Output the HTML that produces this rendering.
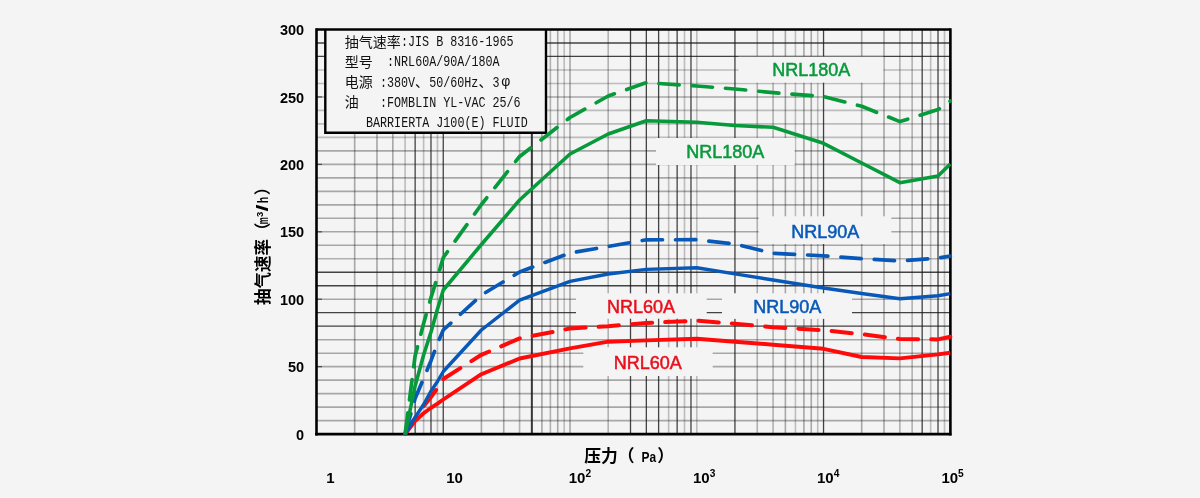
<!DOCTYPE html>
<html><head><meta charset="utf-8"><title>chart</title>
<style>html,body{margin:0;padding:0;background:#f4f4f4;width:1200px;height:498px;overflow:hidden;font-family:"Liberation Sans",sans-serif}</style>
</head><body>
<svg width="1200" height="498" viewBox="0 0 1200 498" style="position:absolute;left:0;top:0;display:block;will-change:transform;filter:blur(0.4px)">
<rect x="0" y="0" width="1200" height="498" fill="#f4f4f4"/>
<g stroke="#161616" fill="none">
<line x1="354.66" y1="29.5" x2="354.66" y2="434.1" stroke-width="1.6" stroke-opacity="0.35"/>
<line x1="376.98" y1="29.5" x2="376.98" y2="434.1" stroke-width="1.6" stroke-opacity="0.35"/>
<line x1="392.82" y1="29.5" x2="392.82" y2="434.1" stroke-width="1.6" stroke-opacity="0.35"/>
<line x1="405.10" y1="29.5" x2="405.10" y2="434.1" stroke-width="1.6" stroke-opacity="0.25"/>
<line x1="415.14" y1="29.5" x2="415.14" y2="434.1" stroke-width="1.3" stroke-opacity="0.8"/>
<line x1="423.62" y1="29.5" x2="423.62" y2="434.1" stroke-width="1.6" stroke-opacity="0.25"/>
<line x1="430.98" y1="29.5" x2="430.98" y2="434.1" stroke-width="1.3" stroke-opacity="0.8"/>
<line x1="437.46" y1="29.5" x2="437.46" y2="434.1" stroke-width="1.6" stroke-opacity="0.25"/>
<line x1="443.26" y1="29.5" x2="443.26" y2="434.1" stroke-width="1.3" stroke-opacity="0.8"/>
<line x1="481.42" y1="29.5" x2="481.42" y2="434.1" stroke-width="1.6" stroke-opacity="0.35"/>
<line x1="503.74" y1="29.5" x2="503.74" y2="434.1" stroke-width="1.6" stroke-opacity="0.35"/>
<line x1="519.58" y1="29.5" x2="519.58" y2="434.1" stroke-width="1.6" stroke-opacity="0.3"/>
<line x1="531.86" y1="29.5" x2="531.86" y2="434.1" stroke-width="2.0" stroke-opacity="0.85"/>
<line x1="541.90" y1="29.5" x2="541.90" y2="434.1" stroke-width="1.6" stroke-opacity="0.35"/>
<line x1="550.38" y1="29.5" x2="550.38" y2="434.1" stroke-width="1.6" stroke-opacity="0.3"/>
<line x1="557.74" y1="29.5" x2="557.74" y2="434.1" stroke-width="1.6" stroke-opacity="0.35"/>
<line x1="564.22" y1="29.5" x2="564.22" y2="434.1" stroke-width="1.6" stroke-opacity="0.25"/>
<line x1="570.02" y1="29.5" x2="570.02" y2="434.1" stroke-width="1.6" stroke-opacity="0.35"/>
<line x1="608.18" y1="29.5" x2="608.18" y2="434.1" stroke-width="1.6" stroke-opacity="0.3"/>
<line x1="630.50" y1="29.5" x2="630.50" y2="434.1" stroke-width="1.3" stroke-opacity="0.8"/>
<line x1="646.34" y1="29.5" x2="646.34" y2="434.1" stroke-width="1.3" stroke-opacity="0.8"/>
<line x1="658.62" y1="29.5" x2="658.62" y2="434.1" stroke-width="1.3" stroke-opacity="0.8"/>
<line x1="668.66" y1="29.5" x2="668.66" y2="434.1" stroke-width="1.6" stroke-opacity="0.25"/>
<line x1="677.14" y1="29.5" x2="677.14" y2="434.1" stroke-width="1.3" stroke-opacity="0.8"/>
<line x1="684.50" y1="29.5" x2="684.50" y2="434.1" stroke-width="1.6" stroke-opacity="0.25"/>
<line x1="690.98" y1="29.5" x2="690.98" y2="434.1" stroke-width="1.3" stroke-opacity="0.8"/>
<line x1="696.78" y1="29.5" x2="696.78" y2="434.1" stroke-width="1.6" stroke-opacity="0.25"/>
<line x1="734.94" y1="29.5" x2="734.94" y2="434.1" stroke-width="1.3" stroke-opacity="0.8"/>
<line x1="757.26" y1="29.5" x2="757.26" y2="434.1" stroke-width="1.6" stroke-opacity="0.3"/>
<line x1="773.10" y1="29.5" x2="773.10" y2="434.1" stroke-width="1.6" stroke-opacity="0.3"/>
<line x1="785.38" y1="29.5" x2="785.38" y2="434.1" stroke-width="1.6" stroke-opacity="0.35"/>
<line x1="795.42" y1="29.5" x2="795.42" y2="434.1" stroke-width="1.6" stroke-opacity="0.25"/>
<line x1="803.90" y1="29.5" x2="803.90" y2="434.1" stroke-width="1.6" stroke-opacity="0.35"/>
<line x1="811.26" y1="29.5" x2="811.26" y2="434.1" stroke-width="1.6" stroke-opacity="0.35"/>
<line x1="817.74" y1="29.5" x2="817.74" y2="434.1" stroke-width="1.6" stroke-opacity="0.25"/>
<line x1="823.54" y1="29.5" x2="823.54" y2="434.1" stroke-width="1.3" stroke-opacity="0.8"/>
<line x1="861.70" y1="29.5" x2="861.70" y2="434.1" stroke-width="1.6" stroke-opacity="0.35"/>
<line x1="884.02" y1="29.5" x2="884.02" y2="434.1" stroke-width="1.6" stroke-opacity="0.35"/>
<line x1="899.86" y1="29.5" x2="899.86" y2="434.1" stroke-width="1.6" stroke-opacity="0.3"/>
<line x1="912.14" y1="29.5" x2="912.14" y2="434.1" stroke-width="1.6" stroke-opacity="0.3"/>
<line x1="922.18" y1="29.5" x2="922.18" y2="434.1" stroke-width="1.3" stroke-opacity="0.8"/>
<line x1="930.66" y1="29.5" x2="930.66" y2="434.1" stroke-width="1.6" stroke-opacity="0.25"/>
<line x1="938.02" y1="29.5" x2="938.02" y2="434.1" stroke-width="1.3" stroke-opacity="0.8"/>
<line x1="944.50" y1="29.5" x2="944.50" y2="434.1" stroke-width="1.6" stroke-opacity="0.25"/>
<line x1="316.5" y1="42.99" x2="950.3" y2="42.99" stroke-width="1.3" stroke-opacity="0.8"/>
<line x1="316.5" y1="56.47" x2="950.3" y2="56.47" stroke-width="1.3" stroke-opacity="0.8"/>
<line x1="316.5" y1="69.96" x2="950.3" y2="69.96" stroke-width="1.6" stroke-opacity="0.25"/>
<line x1="316.5" y1="83.45" x2="950.3" y2="83.45" stroke-width="1.6" stroke-opacity="0.25"/>
<line x1="316.5" y1="96.93" x2="950.3" y2="96.93" stroke-width="1.6" stroke-opacity="0.35"/>
<line x1="316.5" y1="110.42" x2="950.3" y2="110.42" stroke-width="1.6" stroke-opacity="0.25"/>
<line x1="316.5" y1="123.91" x2="950.3" y2="123.91" stroke-width="1.6" stroke-opacity="0.25"/>
<line x1="316.5" y1="137.39" x2="950.3" y2="137.39" stroke-width="1.6" stroke-opacity="0.25"/>
<line x1="316.5" y1="150.88" x2="950.3" y2="150.88" stroke-width="1.6" stroke-opacity="0.35"/>
<line x1="316.5" y1="164.37" x2="950.3" y2="164.37" stroke-width="1.6" stroke-opacity="0.35"/>
<line x1="316.5" y1="177.85" x2="950.3" y2="177.85" stroke-width="1.6" stroke-opacity="0.35"/>
<line x1="316.5" y1="191.34" x2="950.3" y2="191.34" stroke-width="1.6" stroke-opacity="0.35"/>
<line x1="316.5" y1="204.83" x2="950.3" y2="204.83" stroke-width="1.6" stroke-opacity="0.35"/>
<line x1="316.5" y1="218.31" x2="950.3" y2="218.31" stroke-width="1.6" stroke-opacity="0.35"/>
<line x1="316.5" y1="231.80" x2="950.3" y2="231.80" stroke-width="1.6" stroke-opacity="0.35"/>
<line x1="316.5" y1="245.29" x2="950.3" y2="245.29" stroke-width="1.6" stroke-opacity="0.35"/>
<line x1="316.5" y1="258.77" x2="950.3" y2="258.77" stroke-width="1.6" stroke-opacity="0.3"/>
<line x1="316.5" y1="272.26" x2="950.3" y2="272.26" stroke-width="1.3" stroke-opacity="0.8"/>
<line x1="316.5" y1="285.75" x2="950.3" y2="285.75" stroke-width="1.3" stroke-opacity="0.8"/>
<line x1="316.5" y1="299.23" x2="950.3" y2="299.23" stroke-width="1.6" stroke-opacity="0.35"/>
<line x1="316.5" y1="312.72" x2="950.3" y2="312.72" stroke-width="1.3" stroke-opacity="0.8"/>
<line x1="316.5" y1="326.21" x2="950.3" y2="326.21" stroke-width="1.3" stroke-opacity="0.8"/>
<line x1="316.5" y1="339.69" x2="950.3" y2="339.69" stroke-width="1.6" stroke-opacity="0.35"/>
<line x1="316.5" y1="353.18" x2="950.3" y2="353.18" stroke-width="1.6" stroke-opacity="0.35"/>
<line x1="316.5" y1="366.67" x2="950.3" y2="366.67" stroke-width="1.6" stroke-opacity="0.35"/>
<line x1="316.5" y1="380.15" x2="950.3" y2="380.15" stroke-width="1.6" stroke-opacity="0.35"/>
<line x1="316.5" y1="393.64" x2="950.3" y2="393.64" stroke-width="1.6" stroke-opacity="0.35"/>
<line x1="316.5" y1="407.13" x2="950.3" y2="407.13" stroke-width="1.6" stroke-opacity="0.35"/>
<line x1="316.5" y1="420.61" x2="950.3" y2="420.61" stroke-width="1.6" stroke-opacity="0.35"/>
<line x1="316.5" y1="366.67" x2="322.0" y2="366.67" stroke-width="1.3" stroke-opacity="0.6"/>
<line x1="316.5" y1="299.23" x2="322.0" y2="299.23" stroke-width="1.3" stroke-opacity="0.6"/>
<line x1="316.5" y1="231.80" x2="322.0" y2="231.80" stroke-width="1.3" stroke-opacity="0.6"/>
<line x1="316.5" y1="164.37" x2="322.0" y2="164.37" stroke-width="1.3" stroke-opacity="0.6"/>
<line x1="316.5" y1="96.93" x2="322.0" y2="96.93" stroke-width="1.3" stroke-opacity="0.6"/>
</g>
<rect x="738.5" y="56.7" width="144.8" height="26.0" fill="#f4f4f4"/>
<rect x="656.0" y="138.0" width="138.7" height="27.0" fill="#f4f4f4"/>
<rect x="758.7" y="216.3" width="132.6" height="27.7" fill="#f4f4f4"/>
<rect x="722.0" y="293.3" width="130.0" height="25.6" fill="#f4f4f4"/>
<rect x="576.0" y="293.3" width="130.7" height="25.4" fill="#f4f4f4"/>
<rect x="583.3" y="347.3" width="129.4" height="28.7" fill="#f4f4f4"/>
<rect x="325.3" y="29.5" width="220.7" height="103.30000000000001" fill="#f4f4f4"/>
<g stroke="#000" fill="none">
<line x1="316.5" y1="28.3" x2="316.5" y2="435.40000000000003" stroke-width="2.6"/>
<line x1="315.2" y1="434.1" x2="951.4" y2="434.1" stroke-width="2.6"/>
<line x1="950.4" y1="28.25" x2="950.4" y2="435.40000000000003" stroke-width="2.6"/>
<line x1="316.5" y1="29.4" x2="950.3" y2="29.4" stroke-width="2.5"/>
<polyline points="325.3,29.5 325.3,132.8 546.0,132.8 546.0,29.5" stroke-width="2.4"/>
</g>
<polyline points="405.1,434.1 415.1,418 423.6,406.3 431.0,397 437.5,388 443.3,379 481.4,354.8 519.6,338.4 570.0,328.5 608.2,326.3 646.3,322.9 696.8,320.7 734.9,323.7 773.1,327.2 823.5,330.2 861.7,334.2 899.9,339.1 938.0,339.4 950.3,336.7" fill="none" stroke="#ff0a0a" stroke-width="4.0" stroke-linejoin="round" stroke-dasharray="20.3 13.07" stroke-dashoffset="33.1" stroke-linecap="round"/>
<polyline points="405.1,434.1 415.1,421 423.6,413.3 431.0,407.8 437.5,403.6 443.3,399.5 481.4,374.2 519.6,358.5 570.0,348.4 608.2,341.7 646.3,340.4 696.8,338.7 734.9,341.7 773.1,344.7 823.5,348.8 861.7,357 899.9,358.4 938.0,354.4 950.3,352.7" fill="none" stroke="#ff0a0a" stroke-width="3.9" stroke-linejoin="round"/>
<polyline points="405.1,434.1 415.1,398.5 423.6,378.6 431.0,360.7 437.5,343.5 443.3,330 481.4,295 519.6,272 570.0,253 608.2,246.5 646.3,239.8 696.8,239.7 734.9,244 773.1,253.3 823.5,255.8 861.7,258.6 899.9,261 938.0,258 950.3,256" fill="none" stroke="#0858b8" stroke-width="3.7" stroke-linejoin="round" stroke-dasharray="20.3 13.07" stroke-dashoffset="32.5" stroke-linecap="round"/>
<polyline points="405.1,434.1 415.1,417.4 423.6,404.5 431.0,391 437.5,381.5 443.3,371.5 481.4,330 519.6,300.2 570.0,281.3 608.2,274 646.3,269.4 696.8,267.8 734.9,273.9 773.1,280 823.5,288 861.7,293.5 899.9,298.7 938.0,295.7 950.3,293.6" fill="none" stroke="#0858b8" stroke-width="3.4" stroke-linejoin="round"/>
<polyline points="405.1,434.1 415.1,356 423.6,323.5 431.0,297.5 437.5,277 443.3,257.5 481.4,204.5 519.6,156.5 570.0,117.5 608.2,96 646.3,82.7 696.8,86 734.9,89 773.1,92.6 823.5,96.5 861.7,106.3 899.9,121.6 938.0,109.6 950.3,101" fill="none" stroke="#079a3b" stroke-width="3.7" stroke-linejoin="round" stroke-dasharray="20.3 13.07" stroke-dashoffset="32.2" stroke-linecap="round"/>
<polyline points="405.1,434.1 415.1,386 423.6,355 431.0,332 437.5,309 443.3,290 481.4,244.5 519.6,200 570.0,154 608.2,134 646.3,120.7 696.8,122.3 734.9,125.5 773.1,127.3 823.5,143.3 861.7,163 899.9,182.7 938.0,176 950.3,164" fill="none" stroke="#079a3b" stroke-width="3.6" stroke-linejoin="round"/>
<text x="304.2" y="439.7" font-family="Liberation Sans, sans-serif" font-size="14.5" font-weight="bold" text-anchor="end" fill="#000">0</text>
<text x="304.2" y="372.3" font-family="Liberation Sans, sans-serif" font-size="14.5" font-weight="bold" text-anchor="end" fill="#000">50</text>
<text x="304.2" y="304.8" font-family="Liberation Sans, sans-serif" font-size="14.5" font-weight="bold" text-anchor="end" fill="#000">100</text>
<text x="304.2" y="237.4" font-family="Liberation Sans, sans-serif" font-size="14.5" font-weight="bold" text-anchor="end" fill="#000">150</text>
<text x="304.2" y="170.0" font-family="Liberation Sans, sans-serif" font-size="14.5" font-weight="bold" text-anchor="end" fill="#000">200</text>
<text x="304.2" y="102.5" font-family="Liberation Sans, sans-serif" font-size="14.5" font-weight="bold" text-anchor="end" fill="#000">250</text>
<text x="304.2" y="35.1" font-family="Liberation Sans, sans-serif" font-size="14.5" font-weight="bold" text-anchor="end" fill="#000">300</text>
<text x="326.2" y="483.3" font-family="Liberation Sans, sans-serif" font-size="15" font-weight="bold" fill="#000">1</text>
<text x="446.2" y="483.3" font-family="Liberation Sans, sans-serif" font-size="15" font-weight="bold" fill="#000">10</text>
<text x="568.7" y="483.3" font-family="Liberation Sans, sans-serif" font-size="15" font-weight="bold" fill="#000">10<tspan font-size="10.2" dy="-5.9">2</tspan></text>
<text x="693.0" y="483.3" font-family="Liberation Sans, sans-serif" font-size="15" font-weight="bold" fill="#000">10<tspan font-size="10.2" dy="-5.9">3</tspan></text>
<text x="817.0" y="483.3" font-family="Liberation Sans, sans-serif" font-size="15" font-weight="bold" fill="#000">10<tspan font-size="10.2" dy="-5.9">4</tspan></text>
<text x="941.4000000000001" y="483.3" font-family="Liberation Sans, sans-serif" font-size="15" font-weight="bold" fill="#000">10<tspan font-size="10.2" dy="-5.9">5</tspan></text>
<text x="811.3" y="76.3" font-family="Liberation Sans, sans-serif" font-size="18" text-anchor="middle" fill="#079a3b" stroke="#079a3b" stroke-width="0.5">NRL180A</text>
<text x="725.3" y="158.4" font-family="Liberation Sans, sans-serif" font-size="18" text-anchor="middle" fill="#079a3b" stroke="#079a3b" stroke-width="0.5">NRL180A</text>
<text x="825.2" y="237.7" font-family="Liberation Sans, sans-serif" font-size="18" text-anchor="middle" fill="#0858b8" stroke="#0858b8" stroke-width="0.5">NRL90A</text>
<text x="787.3" y="313.2" font-family="Liberation Sans, sans-serif" font-size="18" text-anchor="middle" fill="#0858b8" stroke="#0858b8" stroke-width="0.5">NRL90A</text>
<text x="641.1" y="313.1" font-family="Liberation Sans, sans-serif" font-size="18" text-anchor="middle" fill="#e8101c" stroke="#e8101c" stroke-width="0.5">NRL60A</text>
<text x="647.8" y="368.7" font-family="Liberation Sans, sans-serif" font-size="18" text-anchor="middle" fill="#e8101c" stroke="#e8101c" stroke-width="0.5">NRL60A</text>
<g fill="#111" font-size="14"><title>抽气速率:JIS B 8316-1965 / 型号:NRL60A/90A/180A / 电源:380V、50/60Hz、3φ / 油:FOMBLIN YL-VAC 25/6 BARRIERTA J100(E) FLUID</title>
<text x="344.7" y="46.6" font-family="'Liberation Sans', 'Noto Sans CJK SC', sans-serif">抽气速率</text>
<text x="401" y="46.2" font-family="'Liberation Mono', monospace" xml:space="preserve" textLength="112.5" lengthAdjust="spacingAndGlyphs">:JIS B 8316-1965</text>
<text x="344.7" y="66.8" font-family="'Liberation Sans', 'Noto Sans CJK SC', sans-serif">型号</text>
<text x="387" y="66.4" font-family="'Liberation Mono', monospace" xml:space="preserve" textLength="112.5" lengthAdjust="spacingAndGlyphs">:NRL60A/90A/180A</text>
<text x="344.7" y="86.9" font-family="'Liberation Sans', 'Noto Sans CJK SC', sans-serif">电源</text>
<text x="380" y="86.5" font-family="'Liberation Mono', monospace" xml:space="preserve" textLength="35.15" lengthAdjust="spacingAndGlyphs">:380V</text>
<text x="415" y="86.9" font-family="'Liberation Sans', 'Noto Sans CJK SC', sans-serif">、</text>
<text x="429.2" y="86.5" font-family="'Liberation Mono', monospace" xml:space="preserve" textLength="49.2" lengthAdjust="spacingAndGlyphs">50/60Hz</text>
<text x="478.4" y="86.9" font-family="'Liberation Sans', 'Noto Sans CJK SC', sans-serif">、</text>
<text x="492.4" y="86.5" font-family="'Liberation Mono', monospace" textLength="7.03" lengthAdjust="spacingAndGlyphs">3</text>
<text x="505.8" y="86.3" font-family="'Liberation Sans', 'Noto Sans CJK SC', sans-serif" text-anchor="middle">φ</text>
<text x="344.7" y="107.1" font-family="'Liberation Sans', 'Noto Sans CJK SC', sans-serif">油</text>
<text x="380" y="106.7" font-family="'Liberation Mono', monospace" xml:space="preserve" textLength="140.6" lengthAdjust="spacingAndGlyphs">:FOMBLIN YL-VAC 25/6</text>
<text x="366" y="126.8" font-family="'Liberation Mono', monospace" xml:space="preserve" textLength="161.7" lengthAdjust="spacingAndGlyphs">BARRIERTA J100(E) FLUID</text>
</g>
<g fill="#000" font-weight="bold"><title>压力（ Pa）</title>
<text x="584.3" y="462.4" font-size="16.8" font-family="'Liberation Sans', 'Noto Sans CJK SC', sans-serif">压力（</text>
<text x="641.5" y="462.2" font-size="15.5" font-family="'Liberation Sans', sans-serif" textLength="14.6" lengthAdjust="spacingAndGlyphs">Pa</text>
<text x="657.3" y="462.4" font-size="16.8" font-family="'Liberation Sans', 'Noto Sans CJK SC', sans-serif">）</text>
</g>
<g transform="translate(269.3,305.5) rotate(-90)" fill="#000" font-weight="bold"><title>抽气速率（m3/h）</title>
<text x="0.5" y="-0.6" font-size="16.5" font-family="'Liberation Sans', 'Noto Sans CJK SC', sans-serif">抽气速率（</text>
<text x="81.3" y="-0.84" font-size="15" font-family="'Liberation Sans', sans-serif" textLength="7" lengthAdjust="spacingAndGlyphs">m</text>
<text x="88.6" y="-6.3" font-size="9.5" font-family="'Liberation Sans', sans-serif">3</text>
<text x="94" y="-0.84" font-size="16" font-family="'Liberation Sans', sans-serif" textLength="7" lengthAdjust="spacingAndGlyphs">/</text>
<text x="102.2" y="-0.84" font-size="15.5" font-family="'Liberation Sans', sans-serif" textLength="6.5" lengthAdjust="spacingAndGlyphs">h</text>
<text x="110.2" y="-0.6" font-size="16.5" font-family="'Liberation Sans', 'Noto Sans CJK SC', sans-serif">）</text>
</g>
</svg>
</body></html>
